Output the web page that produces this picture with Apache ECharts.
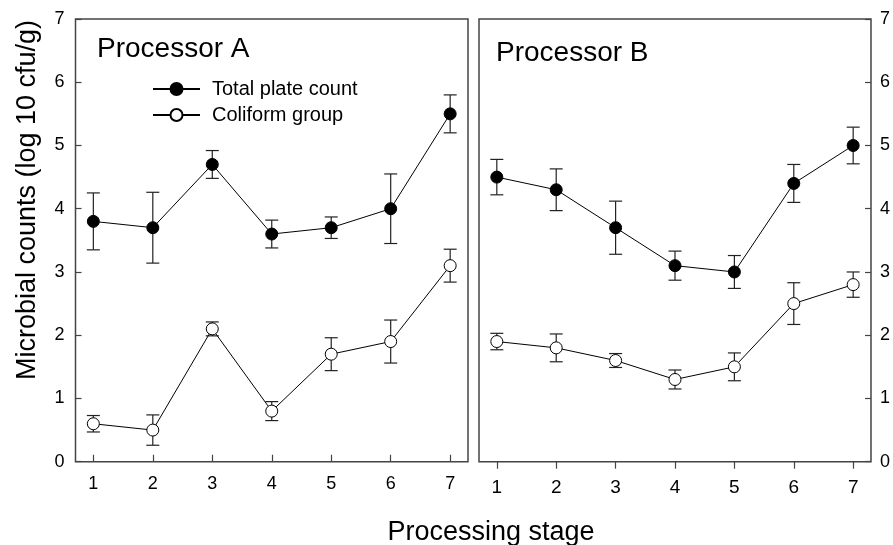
<!DOCTYPE html>
<html><head><meta charset="utf-8">
<script src="https://cdn.jsdelivr.net/npm/echarts@6/dist/echarts.min.js"></script>
<style>html,body{margin:0;padding:0;background:#fff}#c{width:893px;height:545px}</style>
</head><body><div id="c"></div>
<script>
const stages = [1, 2, 3, 4, 5, 6, 7];
const yTicks = [0, 1, 2, 3, 4, 5, 6, 7];
const seriesNames = ['Total plate count', 'Coliform group'];
const panelTitles = ['Processor A', 'Processor B'];
const aTotal = [3.8, 3.7, 4.7, 3.6, 3.7, 4.0, 5.5];
const aTotalErr = [0.45, 0.56, 0.22, 0.22, 0.17, 0.55, 0.30];
const aColi = [0.6, 0.5, 2.1, 0.8, 1.7, 1.9, 3.1];
const aColiErr = [0.13, 0.24, 0.11, 0.15, 0.26, 0.34, 0.26];
const bTotal = [4.5, 4.3, 3.7, 3.1, 3.0, 4.4, 5.0];
const bTotalErr = [0.28, 0.33, 0.42, 0.23, 0.26, 0.30, 0.29];
const bColi = [1.9, 1.8, 1.6, 1.3, 1.5, 2.5, 2.8];
const bColiErr = [0.13, 0.22, 0.11, 0.15, 0.22, 0.33, 0.20];

const FONT = 'Liberation Sans, Arial, sans-serif';
const AX = '#444';

function pts(vals) { return stages.map((s, i) => [s, vals[i]]); }
function errs(vals, e) { return stages.map((s, i) => [s, vals[i] - e[i], vals[i] + e[i]]); }

function errRender(params, api) {
  const x = api.value(0), lo = api.value(1), hi = api.value(2);
  const p1 = api.coord([x, hi]), p2 = api.coord([x, lo]);
  const hw = 6.5;
  const style = { stroke: '#222', lineWidth: 1.2, fill: null };
  return { type: 'group', children: [
    { type: 'line', shape: { x1: p1[0], y1: p1[1], x2: p2[0], y2: p2[1] }, style: style },
    { type: 'line', shape: { x1: p1[0] - hw, y1: p1[1], x2: p1[0] + hw, y2: p1[1] }, style: style },
    { type: 'line', shape: { x1: p2[0] - hw, y1: p2[1], x2: p2[0] + hw, y2: p2[1] }, style: style }
  ]};
}

function lineSeries(name, vals, idx, filled) {
  return {
    type: 'line', name: name, xAxisIndex: idx, yAxisIndex: idx, data: pts(vals),
    symbol: 'circle', symbolSize: 12, z: 5,
    lineStyle: { color: '#000', width: 1 },
    itemStyle: { color: filled ? '#000' : '#fff', borderColor: '#000', borderWidth: 1 },
    emphasis: { disabled: true }, animation: false
  };
}
function errSeries(vals, e, idx) {
  return { type: 'custom', xAxisIndex: idx, yAxisIndex: idx, data: errs(vals, e),
    renderItem: errRender, z: 3, animation: false, silent: true };
}

function xAx(idx, inside, size) {
  return { type: 'value', gridIndex: idx, min: 0.7, max: 7.3,
    axisLine: { show: false }, splitLine: { show: false },
    axisTick: { show: true, inside: inside, length: 7, customValues: stages, lineStyle: { color: AX, width: 1.2 } },
    axisLabel: { customValues: stages, fontSize: size, color: '#000', fontFamily: FONT, margin: inside ? 13 : 17 } };
}
function yAx(idx, pos, margin) {
  return { type: 'value', gridIndex: idx, position: pos, min: 0, max: 7, interval: 1,
    axisLine: { show: false }, splitLine: { show: false },
    axisTick: { show: true, inside: true, length: 6, lineStyle: { color: AX, width: 1.2 } },
    axisLabel: { show: true, fontSize: 18, color: '#000', fontFamily: FONT, margin: margin,
      formatter: v => yTicks.indexOf(v) >= 0 ? String(v) : '' } };
}

const chart = echarts.init(document.getElementById('c'), null, { renderer: 'canvas' });
chart.setOption({
  animation: false,
  backgroundColor: '#fff',
  grid: [
    { left: 75.5, right: 893 - 468, top: 19, bottom: 545 - 461.7, show: true, borderColor: AX, borderWidth: 1.5, backgroundColor: 'transparent' },
    { left: 479, right: 893 - 871.7, top: 19, bottom: 545 - 461.7, show: true, borderColor: AX, borderWidth: 1.5, backgroundColor: 'transparent' }
  ],
  xAxis: [xAx(0, true, 18), xAx(1, false, 19)],
  yAxis: [yAx(0, 'left', 11), yAx(1, 'right', 9)],
  legend: {
    left: 147, top: 74, orient: 'vertical', itemWidth: 47, itemHeight: 15, itemGap: 6,
    data: seriesNames,
    textStyle: { fontSize: 20, fontFamily: FONT, color: '#000', padding: [0, 0, 0, 7] },
    selectedMode: false
  },
  graphic: [
    { type: 'text', x: 97, y: 49, style: { text: panelTitles[0], font: '28px ' + FONT, fill: '#000', verticalAlign: 'middle', align: 'left' } },
    { type: 'text', x: 496, y: 53, style: { text: panelTitles[1], font: '28px ' + FONT, fill: '#000', verticalAlign: 'middle', align: 'left' } },
    { type: 'text', x: 28, y: 200, rotation: Math.PI / 2, style: { text: 'Microbial counts (log 10 cfu/g)', font: '27px ' + FONT, fill: '#000', verticalAlign: 'middle', align: 'center' } },
    { type: 'text', x: 491, y: 533, style: { text: 'Processing stage', font: '27px ' + FONT, fill: '#000', verticalAlign: 'middle', align: 'center' } }
  ],
  series: [
    errSeries(aTotal, aTotalErr, 0),
    errSeries(aColi, aColiErr, 0),
    lineSeries(seriesNames[0], aTotal, 0, true),
    lineSeries(seriesNames[1], aColi, 0, false),
    errSeries(bTotal, bTotalErr, 1),
    errSeries(bColi, bColiErr, 1),
    lineSeries(seriesNames[0], bTotal, 1, true),
    lineSeries(seriesNames[1], bColi, 1, false)
  ]
});
</script></body></html>
